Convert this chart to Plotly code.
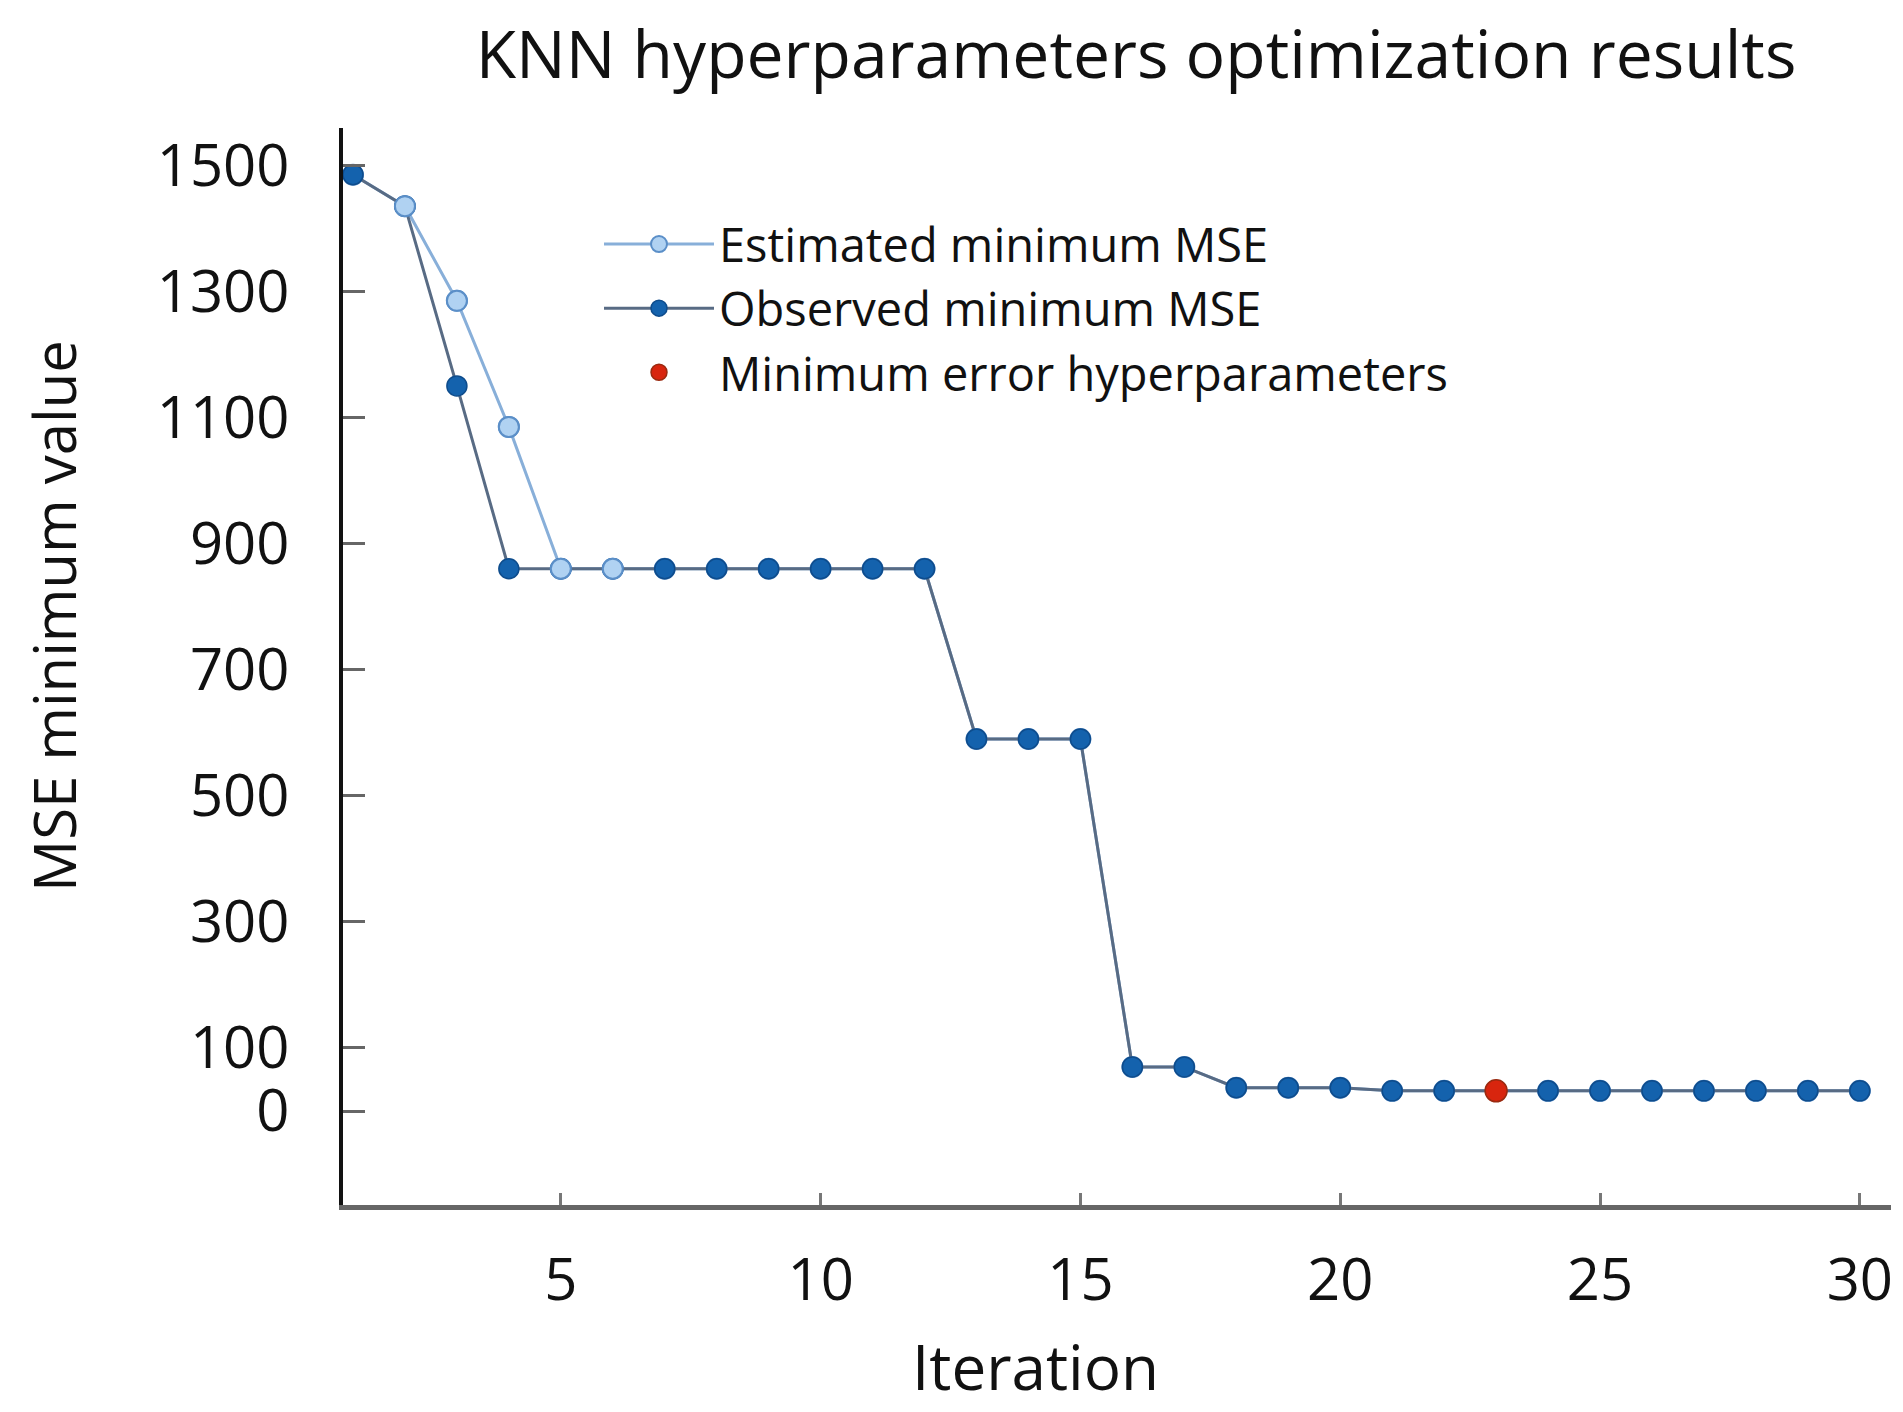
import plotly.graph_objects as go

# ---- data ----
iterations = list(range(1, 31))
observed_mse = [1485, 1435, 1150, 860, 860, 860, 860, 860, 860, 860, 860, 860,
                590, 590, 590, 70, 70, 37, 37, 37,
                32, 32, 32, 32, 32, 32, 32, 32, 32, 32]
estimated_mse = [1485, 1435, 1285, 1085, 860, 860, 860, 860, 860, 860, 860, 860,
                 590, 590, 590, 70, 70, 37, 37, 37,
                 32, 32, 32, 32, 32, 32, 32, 32, 32, 32]
best_iteration = 23
y_ticks = [0, 100, 300, 500, 700, 900, 1100, 1300, 1500]
x_ticks = [5, 10, 15, 20, 25, 30]

FONT = "Open Sans"
OBS_LINE = "#586b84"
OBS_FILL = "#1462ad"
OBS_EDGE = "#0e4c8c"
EST_LINE = "#88afd9"
EST_FILL = "#b0d2f2"
EST_EDGE = "#5b8fc8"

W, H = 1903, 1412
L, R, T, B = 335, 20, 120, 215
PW, PH = W - L - R, H - T - B

fig = go.Figure()

fig.add_trace(go.Scatter(
    x=iterations, y=estimated_mse, mode="lines+markers",
    name="Estimated minimum MSE",
    line=dict(color=EST_LINE, width=3),
    marker=dict(size=20, color=EST_FILL, line=dict(color=EST_EDGE, width=2)),
))
fig.add_trace(go.Scatter(
    x=iterations, y=observed_mse, mode="lines+markers",
    name="Observed minimum MSE",
    line=dict(color=OBS_LINE, width=3),
    marker=dict(size=20, color=OBS_FILL, line=dict(color=OBS_EDGE, width=1.5)),
))
# estimated markers that sit on top in the reference (iterations 2-6)
fig.add_trace(go.Scatter(
    x=iterations[1:6], y=estimated_mse[1:6], mode="markers",
    showlegend=False, hoverinfo="skip",
    marker=dict(size=20, color=EST_FILL, line=dict(color=EST_EDGE, width=2)),
))
bi = iterations.index(best_iteration)
fig.add_trace(go.Scatter(
    x=[iterations[bi]], y=[observed_mse[bi]], mode="markers",
    name="Minimum error hyperparameters",
    marker=dict(size=22, color="#d8250e", line=dict(color="#9a2a10", width=1.5)),
))

fig.update_layout(
    width=W, height=H,
    margin=dict(l=L, r=R, t=T, b=B),
    paper_bgcolor="white", plot_bgcolor="white",
    font=dict(family=FONT, color="#111111", size=58),
    showlegend=True,
    legend=dict(
        x=(591 - L) / PW, y=1 - (199 - T) / PH, xanchor="left", yanchor="top",
        bgcolor="rgba(0,0,0,0)", borderwidth=0,
        font=dict(family=FONT, size=47, color="#111111"),
        tracegroupgap=0, itemwidth=110,
    ),
    title=dict(
        text="KNN hyperparameters optimization results",
        x=1128 / W, xref="container", xanchor="center",
        y=1 - 47 / H, yref="container", yanchor="middle",
        font=dict(family=FONT, size=66, color="#111111"),
    ),
)

fig.update_xaxes(
    range=[0.808, 30.6], tickmode="array", tickvals=x_ticks,
    showgrid=False, zeroline=False,
    showline=True, linecolor="#666666", linewidth=5,
    ticks="inside", ticklen=12, tickwidth=3, tickcolor="#777777",
    tickfont=dict(family=FONT, size=58, color="#111111"),
    ticklabelstandoff=20,
)
fig.update_yaxes(
    range=[-149, 1559], tickmode="array", tickvals=y_ticks,
    showgrid=False, zeroline=False,
    showline=True, linecolor="#111111", linewidth=4,
    ticks="inside", ticklen=22, tickwidth=3, tickcolor="#666666",
    tickfont=dict(family=FONT, size=58, color="#111111"),
    ticklabelstandoff=38,
)

fig.add_annotation(
    text="Iteration", xref="paper", yref="paper",
    x=(1027 - L) / PW, y=-(1358 - (H - B)) / PH,
    xanchor="center", yanchor="middle", showarrow=False, borderpad=0,
    font=dict(family=FONT, size=62, color="#111111"),
)
fig.add_annotation(
    text="MSE minimum value", xref="paper", yref="paper",
    x=(45 - L) / PW, y=1 - (608 - T) / PH,
    xanchor="center", yanchor="middle", showarrow=False, textangle=-90,
    borderpad=0,
    font=dict(family=FONT, size=58, color="#111111"),
)

fig.write_html("out.html")
